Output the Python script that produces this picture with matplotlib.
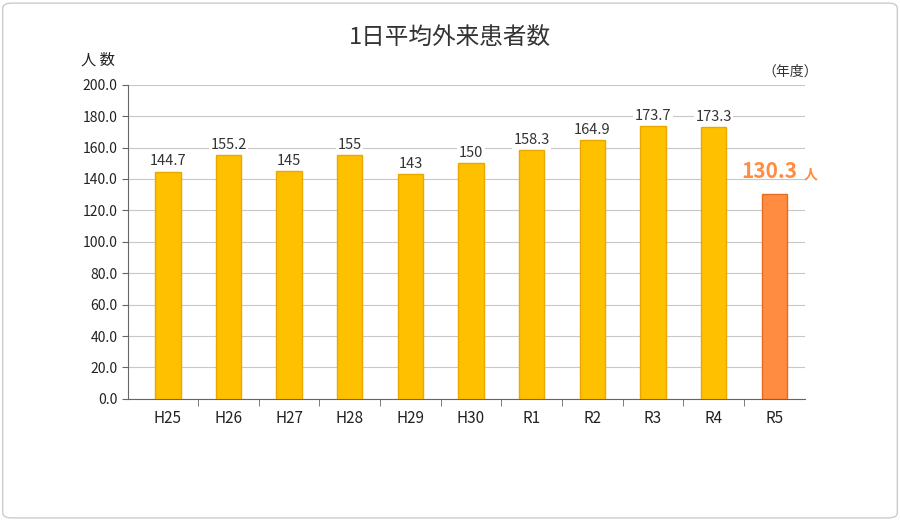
import matplotlib
matplotlib.use("Agg")
import matplotlib.pyplot as plt
from matplotlib.patches import FancyBboxPatch

plt.rcParams['font.family'] = ['Noto Sans CJK JP', 'DejaVu Sans']

categories = ["H25", "H26", "H27", "H28", "H29", "H30", "R1", "R2", "R3", "R4", "R5"]
values = [144.7, 155.2, 145, 155, 143, 150, 158.3, 164.9, 173.7, 173.3, 130.3]
labels = ["144.7", "155.2", "145", "155", "143", "150", "158.3", "164.9", "173.7", "173.3", "130.3"]
yticks = [0, 20, 40, 60, 80, 100, 120, 140, 160, 180, 200]

fig = plt.figure(figsize=(9, 5.2), dpi=100)
border = FancyBboxPatch((0.003, 0.004), 0.994, 0.99, boxstyle="round,pad=0,rounding_size=0.01",
                        transform=fig.transFigure, fc="white", ec="#cccccc", lw=1, zorder=-10)
fig.patches.append(border)
ax = fig.add_axes([0.142, 0.233, 0.752, 0.604])
ax.set_facecolor("none")
x = list(range(len(categories)))
colors = ["#FFC000"] * 10 + ["#FF8C40"]
edges = ["#E8A800"] * 10 + ["#E86A20"]
ax.bar(x, values, width=0.42, color=colors, edgecolor=edges, linewidth=1, zorder=3)
ax.set_xlim(-0.66, 10.5)
ax.set_ylim(0, 200)
ax.set_yticks(yticks)
ax.set_yticklabels([f"{v:.1f}" for v in yticks], fontsize=10, color="#222")
ax.set_xticks(x)
ax.set_xticklabels(categories, fontsize=11, color="#222")
ax.tick_params(axis='x', length=0, pad=8)
ax.tick_params(axis='y', length=4, direction='out', color="#666")
ax.grid(axis='y', color="#c8c8c8", lw=0.8, zorder=0)
for s in ["top", "right"]:
    ax.spines[s].set_visible(False)
for s in ["left", "bottom"]:
    ax.spines[s].set_color("#666")
ax.set_xticks([i + 0.5 for i in x[:-1]], minor=True)
ax.tick_params(axis='x', which='minor', length=5, color="#666", direction='out')

for i in range(10):
    ax.text(x[i], values[i] + 2, labels[i], ha='center', va='bottom', fontsize=10.5, color="#333",
            bbox=dict(fc="white", ec="none", pad=1), zorder=4)
ax.text(x[10] - 0.08, values[10] + 8, labels[10], ha='center', va='bottom', fontsize=15,
        color="#FF8C40", fontweight='bold', zorder=4)
ax.text(x[10] + 0.6, values[10] + 8.3, "人", ha='center', va='bottom', fontsize=10,
        color="#FF8C40", fontweight='bold', zorder=4, clip_on=False)

fig.text(0.5, 0.928, "1日平均外来患者数", ha='center', va='center', fontsize=17, color="#333")
fig.text(0.109, 0.885, "人 数", ha='center', va='center', fontsize=11, color="#222")
fig.text(0.878, 0.862, "（年度）", ha='center', va='center', fontsize=10, color="#333")

fig.savefig("out.png", dpi=100)
